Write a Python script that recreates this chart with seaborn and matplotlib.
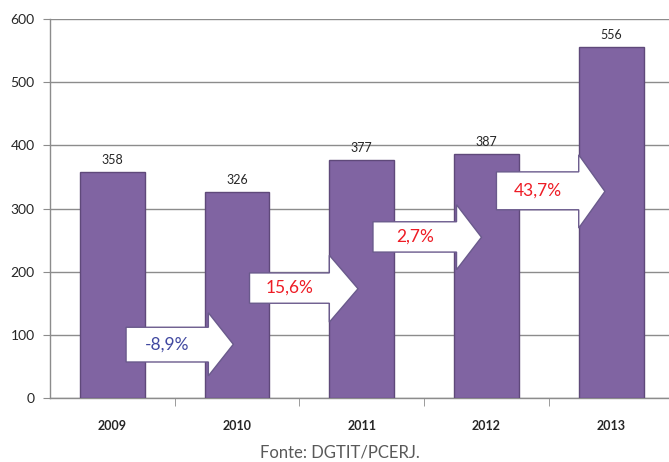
import matplotlib
matplotlib.use("Agg")
import matplotlib.pyplot as plt
from matplotlib.patches import Polygon
import seaborn as sns
import pandas as pd

years = ["2009", "2010", "2011", "2012", "2013"]
values = [358, 326, 377, 387, 556]
changes = ["-8,9%", "15,6%", "2,7%", "43,7%"]
change_colors = ["#4048A0", "#EE1C25", "#EE1C25", "#EE1C25"]

df = pd.DataFrame({"ano": years, "valor": values})

sns.set_style("white")
plt.rcParams["font.family"] = ["Lato", "DejaVu Sans"]

fig = plt.figure(figsize=(6.69, 4.62), dpi=100)
ax = fig.add_axes([50 / 669, 64 / 462, 619 / 669, 379 / 462])

sns.barplot(data=df, x="ano", y="valor", color="#8064A2", saturation=1,
            width=0.52, edgecolor="#5F497A", linewidth=1, ax=ax, zorder=3)

ax.set_ylim(0, 600)
ax.set_xlim(-0.5, -0.5 + 619 / 124.7)
ax.set_yticks(range(0, 601, 100))
ax.grid(axis="y", color="#8C8C8C", linewidth=1, zorder=0)
ax.set_axisbelow(True)
for s in ["top", "right"]:
    ax.spines[s].set_visible(False)
for s in ["left", "bottom"]:
    ax.spines[s].set_color("#8C8C8C")
    ax.spines[s].set_linewidth(1)

ax.tick_params(axis="y", which="major", left=True, length=5, color="#8C8C8C",
               labelsize=10, pad=6)
ax.tick_params(axis="x", which="major", bottom=False, labelsize=9, pad=12)
ax.set_xticks([0.5, 1.5, 2.5, 3.5], minor=True)
ax.tick_params(axis="x", which="minor", bottom=True, length=6, color="#8C8C8C")
for lbl in ax.get_xticklabels():
    lbl.set_fontweight("bold")
ax.set_xlabel("")
ax.set_ylabel("")

for i, v in enumerate(values):
    ax.text(i, v + 9, str(v), ha="center", va="bottom", fontsize=9, zorder=5)

# growth arrows between years (left, head base, tip, body bottom/top, head bottom/top)
arrows = [
    (0.11, 0.77, 0.97, 57, 112, 35, 135),
    (1.10, 1.74, 1.97, 150, 198, 120, 226),
    (2.09, 2.76, 2.96, 231, 279, 203, 306),
    (3.08, 3.74, 3.95, 298, 358, 269, 385),
]
for (x0, xb, xt, b0, b1, h0, h1), txt, c in zip(arrows, changes, change_colors):
    pts = [(x0, b0), (xb, b0), (xb, h0), (xt, (h0 + h1) / 2), (xb, h1), (xb, b1), (x0, b1)]
    ax.add_patch(Polygon(pts, closed=True, facecolor="white", edgecolor="#6A5A8C",
                         linewidth=1, zorder=4))
    ax.text((x0 + xb) / 2, (b0 + b1) / 2, txt, ha="center", va="center",
            fontsize=12.5, color=c, zorder=5)

fig.text(340 / 669, 1 - 452 / 462, "Fonte: DGTIT/PCERJ.", ha="center", va="center",
         fontsize=12, color="#595959")

fig.savefig("out.png", dpi=100)
